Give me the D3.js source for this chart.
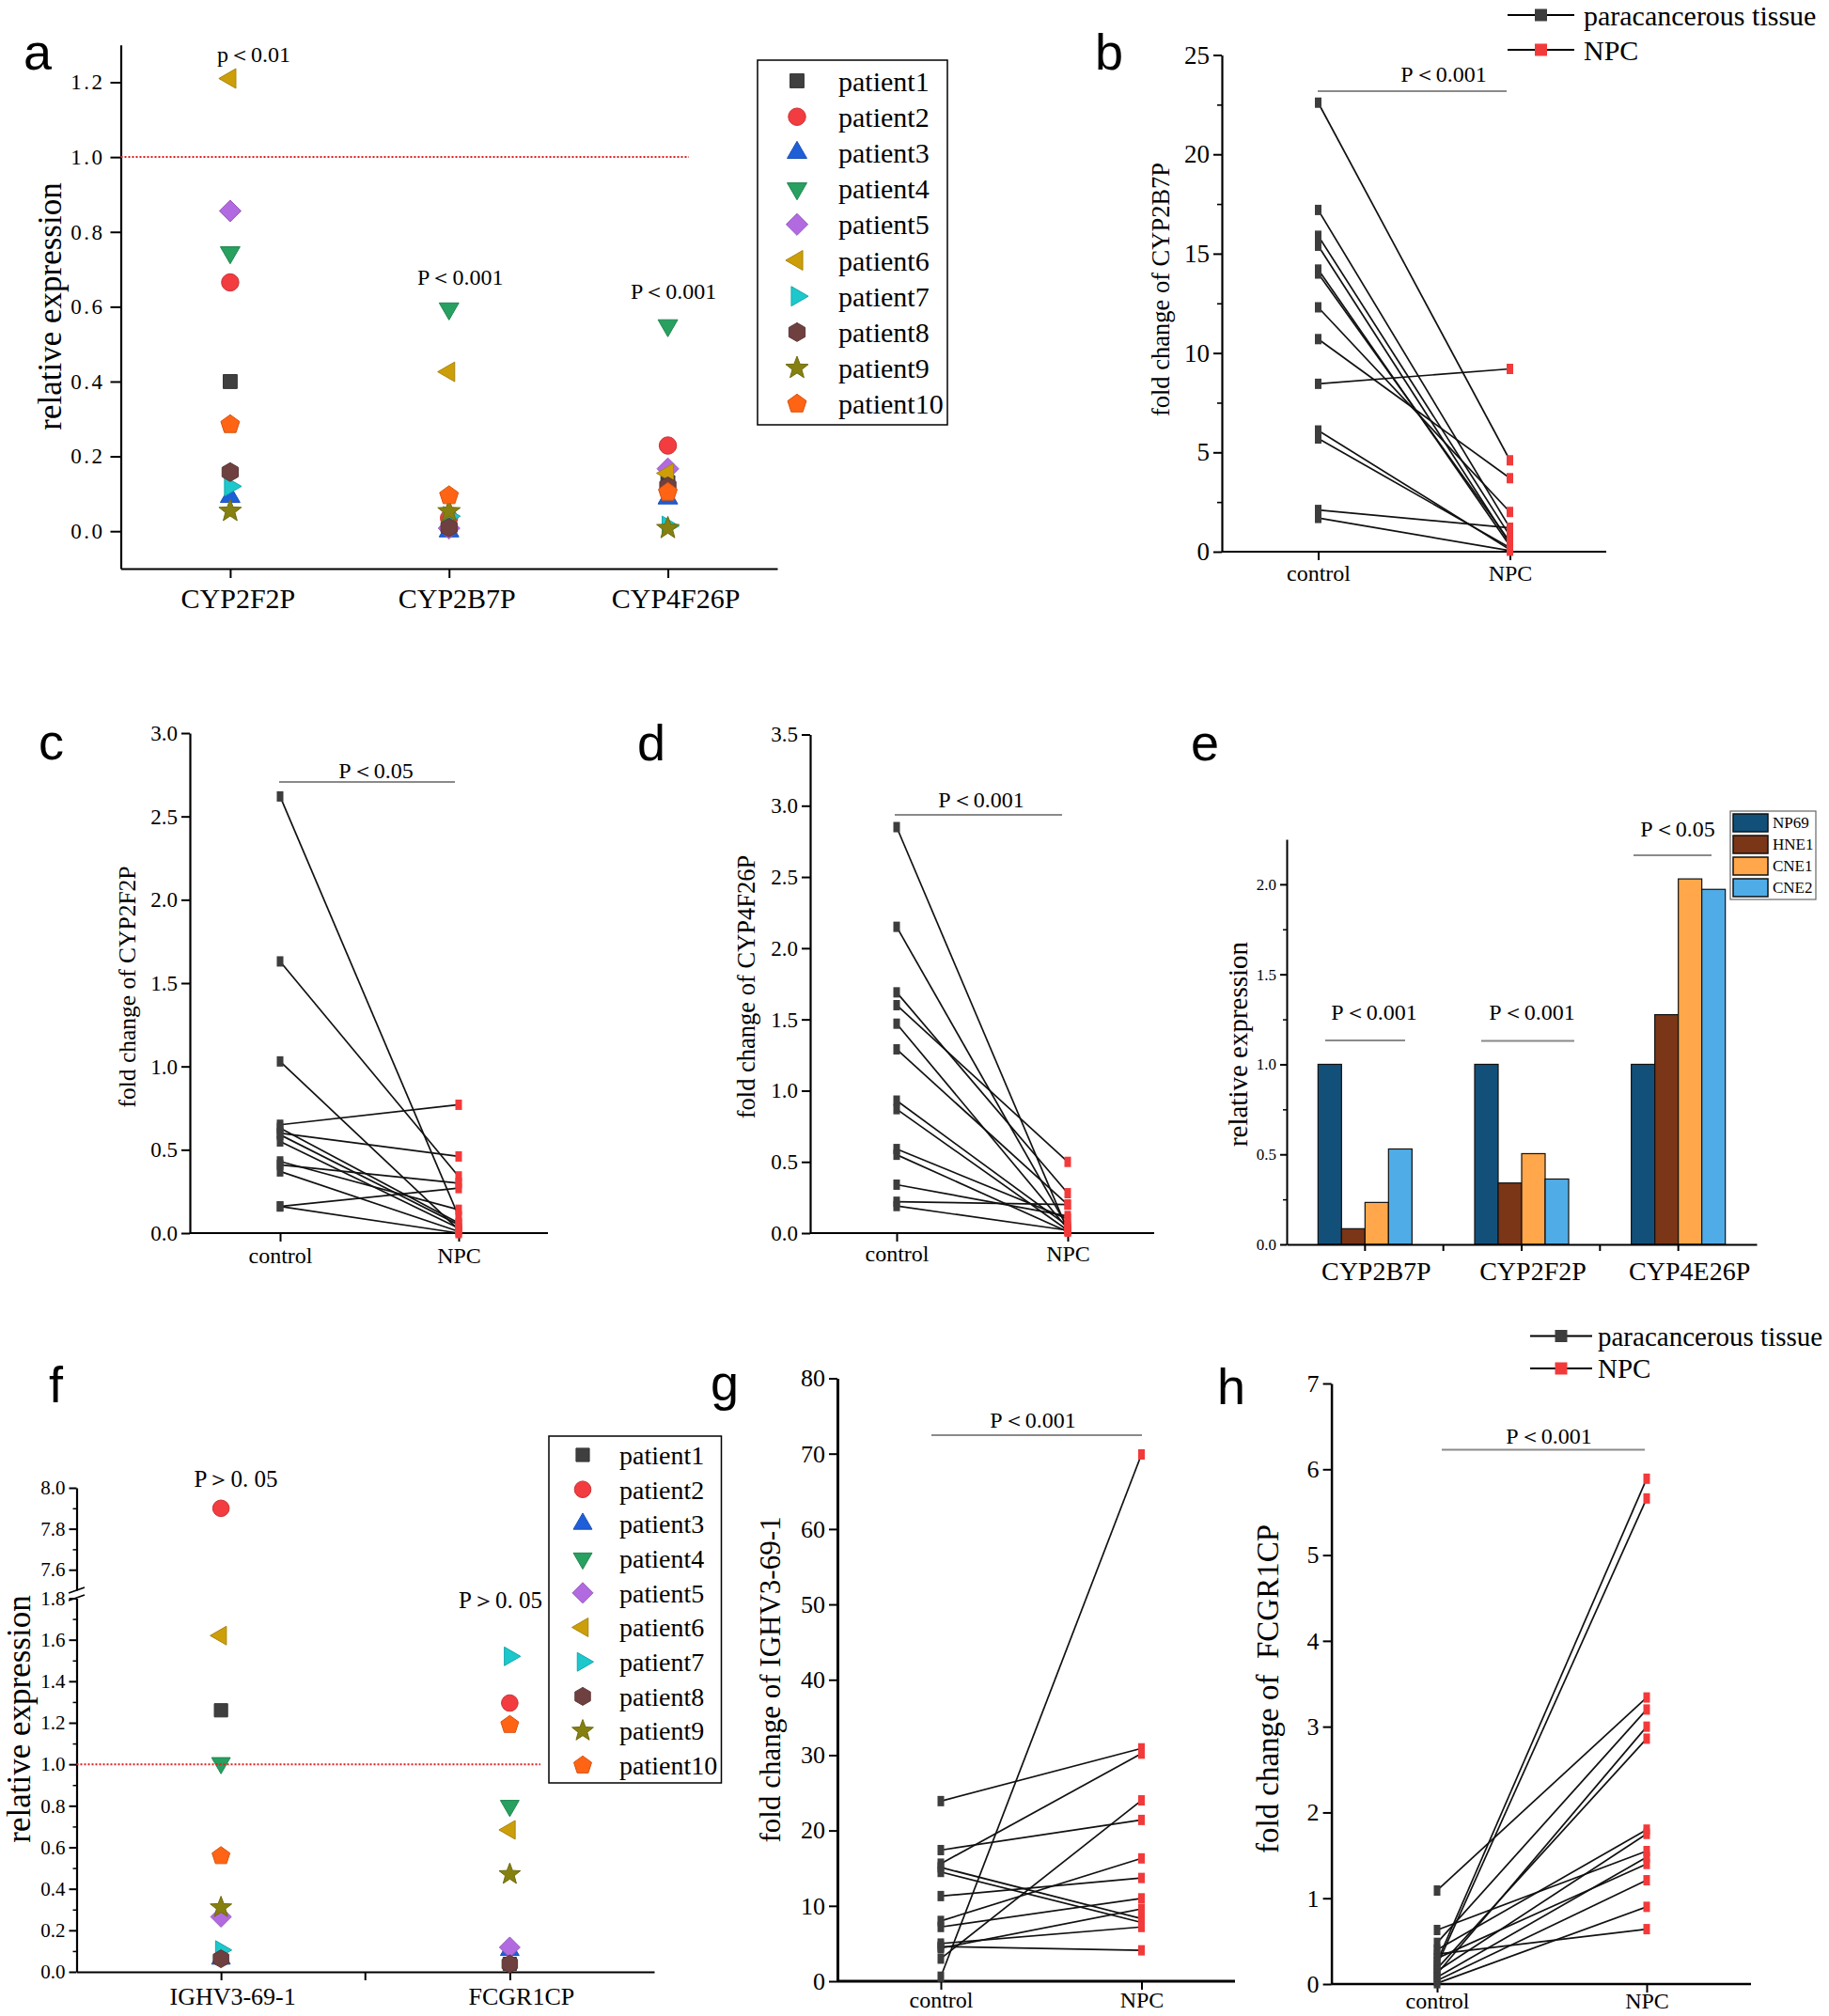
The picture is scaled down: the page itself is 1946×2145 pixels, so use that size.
<!DOCTYPE html>
<html>
<head>
<meta charset="utf-8">
<script src="https://cdn.jsdelivr.net/npm/d3@7"></script>
<style>
body { margin: 0; background: #fff; }
text { font-family: "Liberation Serif", "Times New Roman", serif; fill: #000; }
.plab { font-family: "Liberation Sans", Arial, sans-serif; }
</style>
</head>
<body>
<svg id="fig" width="1946" height="2145"></svg>
<script>
// ---- data ----
var patients = ["patient1", "patient2", "patient3", "patient4", "patient5",
  "patient6", "patient7", "patient8", "patient9", "patient10"];
var patientColors = ["#3f3f3f", "#f23c40", "#1e5fd8", "#27a060", "#b26ae0",
  "#cc9f0a", "#1cc8cc", "#6f4040", "#858010", "#ff6414"];

// panel a: relative expression per patient (patient1..patient10)
var genesA = ["CYP2F2P", "CYP2B7P", "CYP4F26P"];
var a_CYP2F2P = [0.40, 0.665, 0.092, 0.745, 0.856, 1.21, 0.12, 0.158, 0.054, 0.285];
var a_CYP2B7P = [0.02, 0.035, 0.0, 0.595, 0.008, 0.426, 0.04, 0.01, 0.053, 0.095];
var a_CYP4F26P = [0.13, 0.229, 0.088, 0.55, 0.167, 0.155, 0.014, 0.12, 0.008, 0.104];
var aTicks = [0, 0.2, 0.4, 0.6, 0.8, 1.0, 1.2];
var aPtext = ["p＜0.01", "P＜0.001", "P＜0.001"];

// paired panels: control vs NPC
var groups = ["control", "NPC"];
var bControl = [22.6, 17.2, 15.9, 15.4, 14.2, 14.0, 12.3, 10.7, 8.45, 6.1, 5.7, 2.1, 1.7];
var bNPC     = [4.6, 1.2, 0.8, 0.4, 0.3, 0.5, 2.0, 3.7, 9.2, 0.1, 0.2, 1.2, 0.05];
var cControl = [2.62, 1.63, 1.03, 0.65, 0.63, 0.60, 0.59, 0.55, 0.43, 0.41, 0.37, 0.16, 0.16];
var cNPC     = [0.10, 0.34, 0.02, 0.77, 0.06, 0.46, 0.05, 0.03, 0.14, 0.30, 0.01, 0.27, 0.0];
var dControl = [2.85, 2.15, 1.69, 1.60, 1.47, 1.29, 0.93, 0.87, 0.59, 0.55, 0.34, 0.22, 0.19];
var dNPC     = [0.02, 0.04, 0.28, 0.50, 0.03, 0.20, 0.05, 0.02, 0.10, 0.01, 0.12, 0.20, 0.02];
var gControl = [23.9, 17.4, 15.6, 15.1, 14.5, 11.3, 8.0, 7.2, 5.0, 4.6, 4.4, 3.0, 0.6];
var gNPC     = [30.9, 21.4, 30.2, 8.3, 7.8, 13.7, 16.3, 11.0, 7.2, 4.1, 9.6, 24.0, 69.9];
var hControl = [1.09, 0.63, 0.48, 0.40, 0.35, 0.30, 0.26, 0.22, 0.18, 0.15, 0.12, 0.08, 0.04, 0.01];
var hNPC     = [3.34, 1.55, 3.20, 1.80, 0.64, 1.40, 5.89, 5.66, 2.86, 1.75, 3.00, 1.48, 1.21, 0.90];
var pairLegend = ["paracancerous tissue", "NPC"];

// panel e: cell lines
var genesE = ["CYP2B7P", "CYP2F2P", "CYP4E26P"];
var cellLines = ["NP69", "HNE1", "CNE1", "CNE2"];
var cellColors = ["#12507a", "#7b3517", "#ffa74a", "#50ace6"];
var eNP69 = [1.0, 1.0, 1.0];
var eHNE1 = [0.087, 0.341, 1.276];
var eCNE1 = [0.233, 0.504, 2.03];
var eCNE2 = [0.53, 0.363, 1.972];
var ePtext = ["P＜0.001", "P＜0.001", "P＜0.05"];

// panel f
var genesF = ["IGHV3-69-1", "FCGR1CP"];
var f_IGHV = [1.26, 7.90, 0.063, 1.006, 0.265, 1.62, 0.105, 0.063, 0.31, 0.558];
var f_FCGR = [0.038, 1.295, 0.105, 0.80, 0.118, 0.684, 1.52, 0.038, 0.47, 1.19];

var svg = d3.select("#fig");
svg.append("rect").attr("width", 1946).attr("height", 2145).attr("fill", "#fff");

// ---- helpers ----
function regular(p, n, rot, r, inner) {
  var m = inner ? 2 * n : n;
  for (var i = 0; i < m; i++) {
    var ang = rot + i * 2 * Math.PI / m;
    var rr = (inner && i % 2) ? r * inner : r;
    var x = rr * Math.sin(ang), y = -rr * Math.cos(ang);
    if (i === 0) p.moveTo(x, y); else p.lineTo(x, y);
  }
  p.closePath();
}

function markerPath(k, R) {
  var p = d3.path();
  if (k === 0) regular(p, 4, Math.PI / 4, R);
  else if (k === 1) { p.moveTo(R * 0.88, 0); p.arc(0, 0, R * 0.88, 0, 2 * Math.PI); }
  else if (k === 2) regular(p, 3, 0, R * 1.15);
  else if (k === 3) regular(p, 3, Math.PI, R * 1.15);
  else if (k === 4) regular(p, 4, 0, R * 1.1);
  else if (k === 5) regular(p, 3, -Math.PI / 2, R * 1.15);
  else if (k === 6) regular(p, 3, Math.PI / 2, R * 1.15);
  else if (k === 7) regular(p, 6, 0, R * 0.95);
  else if (k === 8) regular(p, 5, 0, R * 1.2, 0.42);
  else regular(p, 5, 0, R);
  return p.toString();
}

function marker(g, k, x, y, R) {
  g.append("path")
    .attr("d", markerPath(k, R))
    .attr("transform", "translate(" + x + "," + y + ")")
    .attr("fill", patientColors[k])
    .attr("stroke", d3.color(patientColors[k]).darker(0.5))
    .attr("stroke-width", 1);
}

function styleAxis(sel, size, w) {
  sel.attr("font-family", "'Liberation Serif','Times New Roman',serif").attr("font-size", size);
  sel.selectAll(".domain").attr("stroke", "#000").attr("stroke-width", w || 2.2);
  sel.selectAll(".tick line").attr("stroke", "#000").attr("stroke-width", 2);
  sel.selectAll(".tick text").attr("fill", "#000");
}

function panelLetter(t, x, y) {
  svg.append("text").attr("class", "plab").attr("x", x).attr("y", y)
    .attr("font-size", 54).text(t);
}

function rotLabel(t, x, y, size) {
  svg.append("text")
    .attr("transform", "translate(" + x + "," + y + ") rotate(-90)")
    .attr("text-anchor", "middle").attr("dy", "0.35em")
    .attr("font-size", size).style("white-space", "pre").text(t);
}

function centerText(t, x, y, size) {
  svg.append("text").attr("x", x).attr("y", y)
    .attr("text-anchor", "middle").attr("dy", "0.35em")
    .attr("font-size", size).style("white-space", "pre").text(t);
}

function sigBar(x1, x2, y) {
  svg.append("line").attr("x1", x1).attr("x2", x2).attr("y1", y).attr("y2", y)
    .attr("stroke", "#8a8a8a").attr("stroke-width", 2);
}

function pairedPanel(o) {
  var g = svg.append("g");
  var x = d3.scalePoint().domain(groups).range([o.cx, o.nx]);
  var y = d3.scaleLinear().domain(o.domain).range([o.y0, o.y1]);

  var ya = g.append("g").attr("transform", "translate(" + o.x0 + ",0)")
    .call(d3.axisLeft(y).tickValues(o.ticks).tickSize(9).tickSizeOuter(0)
      .tickPadding(4).tickFormat(o.fmt));
  styleAxis(ya, o.tickFont, o.axisW);
  if (o.minor) {
    var ym = g.append("g").attr("transform", "translate(" + o.x0 + ",0)")
      .call(d3.axisLeft(y).tickValues(o.minor).tickSize(5).tickFormat(""));
    ym.select(".domain").remove();
    ym.selectAll(".tick line").attr("stroke", "#000").attr("stroke-width", 1.6);
  }

  var xa = g.append("g").attr("transform", "translate(0," + o.y0 + ")")
    .call(d3.axisBottom(x).tickSize(9).tickPadding(o.xpad));
  xa.select(".domain").remove();
  styleAxis(xa, 24);
  xa.append("line").attr("x1", o.x0).attr("x2", o.x1)
    .attr("stroke", "#000").attr("stroke-width", o.axisW || 2.2);

  g.selectAll("line.pair").data(o.ctrl).enter().append("line").attr("class", "pair")
    .attr("x1", x("control")).attr("y1", function(d) { return y(d); })
    .attr("x2", x("NPC")).attr("y2", function(d, i) { return y(o.npc[i]); })
    .attr("stroke", "#111").attr("stroke-width", 1.7);

  g.selectAll("rect.c").data(o.ctrl).enter().append("rect").attr("class", "c")
    .attr("x", x("control") - 3.5).attr("y", function(d) { return y(d) - 5.5; })
    .attr("width", 7).attr("height", 11).attr("fill", "#3d3d3d");
  g.selectAll("rect.n").data(o.npc).enter().append("rect").attr("class", "n")
    .attr("x", x("NPC") - 3.5).attr("y", function(d) { return y(d) - 5.5; })
    .attr("width", 7).attr("height", 11).attr("fill", "#f23a3a");

  sigBar(o.sig[0], o.sig[1], o.sig[2]);
  centerText(o.ptext, o.sig[3], o.sig[4], 24);
  rotLabel(o.ylabel, o.yl[0], o.yl[1], o.yl[2]);
}

function pairLegendDraw(x1, x2, rows, tx, size) {
  pairLegend.forEach(function(t, i) {
    var yy = rows[i];
    svg.append("line").attr("x1", x1).attr("x2", x2).attr("y1", yy).attr("y2", yy)
      .attr("stroke", "#000").attr("stroke-width", 2);
    svg.append("rect").attr("x", (x1 + x2) / 2 - 6.5).attr("y", yy - 6.5)
      .attr("width", 13).attr("height", 13)
      .attr("fill", i === 0 ? "#3d3d3d" : "#f23a3a");
    svg.append("text").attr("x", tx).attr("y", yy).attr("dy", "0.35em")
      .attr("font-size", size).text(t);
  });
}

// ---- panel a ----
(function() {
  var g = svg.append("g");
  var x = d3.scalePoint().domain(genesA).range([128.5, 827]).padding(0.5);
  var y = d3.scaleLinear().domain([-0.1, 1.3]).range([605, 47.7]);

  svg.append("line").attr("x1", 128.5).attr("x2", 733).attr("y1", y(1)).attr("y2", y(1))
    .attr("stroke", "#e02020").attr("stroke-width", 2).attr("stroke-dasharray", "2,2");

  var ya = g.append("g").attr("transform", "translate(128.5,0)")
    .call(d3.axisLeft(y).tickValues(aTicks).tickSize(11).tickSizeOuter(0)
      .tickPadding(6).tickFormat(d3.format(".1f")));
  styleAxis(ya, 23);
  ya.selectAll(".tick text").attr("letter-spacing", 2.5);

  var xa = g.append("g").attr("transform", "translate(0,605)")
    .call(d3.axisBottom(x).tickSize(10).tickSizeOuter(0).tickPadding(11));
  styleAxis(xa, 30);
  xa.selectAll(".tick text").attr("dx", 8);

  var series = [a_CYP2F2P, a_CYP2B7P, a_CYP4F26P];
  series.forEach(function(vals, gi) {
    vals.forEach(function(v, k) { marker(g, k, x(genesA[gi]), y(v), 10.5); });
  });

  centerText(aPtext[0], x(genesA[0]) + 25, y(1.275), 24);
  centerText(aPtext[1], x(genesA[1]) + 12, y(0.68), 24);
  centerText(aPtext[2], x(genesA[2]) + 6, y(0.643), 24);

  rotLabel("relative expression", 53, 326, 35);

  // legend
  g.append("rect").attr("x", 806).attr("y", 64).attr("width", 202).attr("height", 388)
    .attr("fill", "#fff").attr("stroke", "#000").attr("stroke-width", 1.5);
  patients.forEach(function(p, k) {
    var yy = 86 + 38.2 * k;
    marker(g, k, 848, yy, 10.5);
    g.append("text").attr("x", 892).attr("y", yy).attr("dy", "0.35em")
      .attr("font-size", 30).text(p);
  });
  panelLetter("a", 25, 74);
})();

// ---- panel b ----
pairedPanel({
  ctrl: bControl, npc: bNPC, x0: 1300, x1: 1709, cx: 1402.5, nx: 1606.5,
  y0: 587, y1: 58.5, domain: [0, 25], ticks: d3.range(0, 26, 5),
  minor: d3.range(2.5, 25, 5), fmt: d3.format("d"), tickFont: 27, xpad: 5,
  sig: [1402, 1603, 97, 1536, 79], ptext: "P＜0.001",
  ylabel: "fold change of CYP2B7P", yl: [1235, 308, 26.5]
});
pairLegendDraw(1604, 1675, [16, 53], 1685, 30);
panelLetter("b", 1165, 74);

// ---- panel c ----
pairedPanel({
  ctrl: cControl, npc: cNPC, x0: 202, x1: 583, cx: 298, nx: 488,
  y0: 1312, y1: 780, domain: [0, 3], ticks: d3.range(0, 3.01, 0.5),
  fmt: d3.format(".1f"), tickFont: 23, xpad: 6,
  sig: [297, 484, 832, 400, 820], ptext: "P＜0.05",
  ylabel: "fold change of CYP2F2P", yl: [135, 1050, 25.5]
});
panelLetter("c", 41, 808);

// ---- panel d ----
pairedPanel({
  ctrl: dControl, npc: dNPC, x0: 862, x1: 1228, cx: 954, nx: 1136,
  y0: 1312, y1: 781.5, domain: [0, 3.5], ticks: d3.range(0, 3.51, 0.5),
  fmt: d3.format(".1f"), tickFont: 23, xpad: 4,
  sig: [952, 1130, 867, 1044, 851], ptext: "P＜0.001",
  ylabel: "fold change of CYP4F26P", yl: [794, 1050, 26.5]
});
panelLetter("d", 678, 809);

// ---- panel e ----
(function() {
  var g = svg.append("g");
  var x0 = d3.scaleBand().domain(genesE).range([1369, 1869]).paddingInner(0.4).paddingOuter(0.2);
  var x1 = d3.scaleBand().domain(cellLines).range([0, x0.bandwidth()]);
  var y = d3.scaleLinear().domain([0, 2.25]).range([1324, 893]);
  var series = [eNP69, eHNE1, eCNE1, eCNE2];

  series.forEach(function(vals, s) {
    g.selectAll("rect.s" + s).data(vals).enter().append("rect")
      .attr("x", function(d, i) { return x0(genesE[i]) + x1(cellLines[s]); })
      .attr("y", function(d) { return y(d); })
      .attr("width", x1.bandwidth())
      .attr("height", function(d) { return y(0) - y(d); })
      .attr("fill", cellColors[s]).attr("stroke", "#111").attr("stroke-width", 1.2);
  });

  var ya = g.append("g").attr("transform", "translate(1369,0)")
    .call(d3.axisLeft(y).tickValues([0, 0.5, 1, 1.5, 2]).tickSize(7).tickSizeOuter(0)
      .tickPadding(4).tickFormat(d3.format(".1f")));
  styleAxis(ya, 17, 2);
  var ym = g.append("g").attr("transform", "translate(1369,0)")
    .call(d3.axisLeft(y).tickValues([0.25, 0.75, 1.25, 1.75]).tickSize(4).tickFormat(""));
  ym.select(".domain").remove();
  ym.selectAll(".tick line").attr("stroke", "#000").attr("stroke-width", 1.5);

  var xa = g.append("g").attr("transform", "translate(0,1324)")
    .call(d3.axisBottom(x0).tickSize(7).tickSizeOuter(0).tickPadding(11));
  styleAxis(xa, 28, 2);
  xa.selectAll(".tick text").attr("dx", 12);
  [0, 1].forEach(function(i) {
    var bx = x0(genesE[i]) + x0.bandwidth() + x0.step() * 0.2;
    xa.append("line").attr("x1", bx).attr("x2", bx).attr("y1", 0).attr("y2", 7)
      .attr("stroke", "#000").attr("stroke-width", 2);
  });

  sigBar(1410, 1495, 1107); centerText(ePtext[0], 1462, 1077, 24);
  sigBar(1576, 1675, 1107.5); centerText(ePtext[1], 1630, 1077, 24);
  sigBar(1738, 1821, 910); centerText(ePtext[2], 1785, 882, 24);

  rotLabel("relative expression", 1317, 1111, 29);

  g.append("rect").attr("x", 1841).attr("y", 863).attr("width", 91).attr("height", 94)
    .attr("fill", "#fff").attr("stroke", "#666").attr("stroke-width", 1.2);
  cellLines.forEach(function(c, s) {
    var yy = 875.5 + 23 * s;
    g.append("rect").attr("x", 1844).attr("y", yy - 9.5).attr("width", 37).attr("height", 19)
      .attr("fill", cellColors[s]).attr("stroke", "#111").attr("stroke-width", 1.5);
    g.append("text").attr("x", 1886).attr("y", yy).attr("dy", "0.35em")
      .attr("font-size", 17).text(c);
  });
  panelLetter("e", 1267, 809);
})();

// ---- panel f ----
(function() {
  var g = svg.append("g");
  var x = d3.scalePoint().domain(genesF).range([81.5, 696]).padding(0.5);
  var yLow = d3.scaleLinear().domain([0, 1.8]).range([2098, 1700.5]);
  var yHigh = d3.scaleLinear().domain([7.5, 8.0]).range([1692, 1583]);
  function y(v) { return v > 5 ? yHigh(v) : yLow(v); }

  svg.append("line").attr("x1", 81.5).attr("x2", 575).attr("y1", yLow(1)).attr("y2", yLow(1))
    .attr("stroke", "#e02020").attr("stroke-width", 2).attr("stroke-dasharray", "2,2");

  var fmt = d3.format(".1f");
  var ya = g.append("g").attr("transform", "translate(81.5,0)")
    .call(d3.axisLeft(yLow).tickValues(d3.range(0, 1.81, 0.2)).tickSize(8).tickSizeOuter(0)
      .tickPadding(4).tickFormat(fmt));
  styleAxis(ya, 21);
  var yb = g.append("g").attr("transform", "translate(81.5,0)")
    .call(d3.axisLeft(yHigh).tickValues([7.6, 7.8, 8.0]).tickSize(8).tickSizeOuter(0)
      .tickPadding(4).tickFormat(fmt));
  styleAxis(yb, 21);
  [[yLow, d3.range(0.1, 1.8, 0.2)], [yHigh, [7.7, 7.9]]].forEach(function(m) {
    var ym = g.append("g").attr("transform", "translate(81.5,0)")
      .call(d3.axisLeft(m[0]).tickValues(m[1]).tickSize(4).tickFormat(""));
    ym.select(".domain").remove();
    ym.selectAll(".tick line").attr("stroke", "#000").attr("stroke-width", 1.5);
  });
  // axis break
  [1692, 1700].forEach(function(by) {
    g.append("line").attr("x1", 73).attr("x2", 90).attr("y1", by + 3).attr("y2", by - 3)
      .attr("stroke", "#000").attr("stroke-width", 1.8);
  });

  var xa = g.append("g").attr("transform", "translate(0,2098)")
    .call(d3.axisBottom(x).tickSize(9).tickSizeOuter(0).tickPadding(8));
  styleAxis(xa, 26);
  xa.selectAll(".tick text").attr("dx", 12);
  var mid = (x(genesF[0]) + x(genesF[1])) / 2;
  xa.append("line").attr("x1", mid).attr("x2", mid).attr("y1", 0).attr("y2", 9)
    .attr("stroke", "#000").attr("stroke-width", 2);

  [f_IGHV, f_FCGR].forEach(function(vals, gi) {
    vals.forEach(function(v, k) { marker(g, k, x(genesF[gi]), y(v), 10); });
  });

  centerText("P＞0. 05", 251, 1573.5, 25);
  centerText("P＞0. 05", 532.5, 1702, 25);
  rotLabel("relative expression", 20, 1829, 35);

  g.append("rect").attr("x", 584).attr("y", 1528).attr("width", 183.5).attr("height", 369)
    .attr("fill", "#fff").attr("stroke", "#000").attr("stroke-width", 1.5);
  patients.forEach(function(p, k) {
    var yy = 1548 + 36.7 * k;
    marker(g, k, 620, yy, 10);
    g.append("text").attr("x", 659).attr("y", yy).attr("dy", "0.35em")
      .attr("font-size", 28).text(p);
  });
  panelLetter("f", 52, 1492);
})();

// ---- panel g ----
pairedPanel({
  ctrl: gControl, npc: gNPC, x0: 891, x1: 1314, cx: 1001, nx: 1214.5,
  y0: 2108, y1: 1466.5, domain: [0, 80], ticks: d3.range(0, 81, 10),
  fmt: d3.format("d"), tickFont: 26, xpad: 2, axisW: 3,
  sig: [991, 1215, 1527, 1099, 1511], ptext: "P＜0.001",
  ylabel: "fold change of IGHV3-69-1", yl: [819, 1787, 31]
});
panelLetter("g", 756, 1490);

// ---- panel h ----
pairedPanel({
  ctrl: hControl, npc: hNPC, x0: 1416.6, x1: 1863, cx: 1529, nx: 1752,
  y0: 2111, y1: 1472, domain: [0, 7], ticks: d3.range(0, 8, 1),
  fmt: d3.format("d"), tickFont: 26, xpad: 0, axisW: 2.5,
  sig: [1534, 1750, 1542.5, 1648, 1528], ptext: "P＜0.001",
  ylabel: "fold change of  FCGR1CP", yl: [1348, 1797, 33]
});
pairLegendDraw(1628, 1694, [1421.5, 1456], 1700, 29);
panelLetter("h", 1295, 1494);
</script>
</body>
</html>
